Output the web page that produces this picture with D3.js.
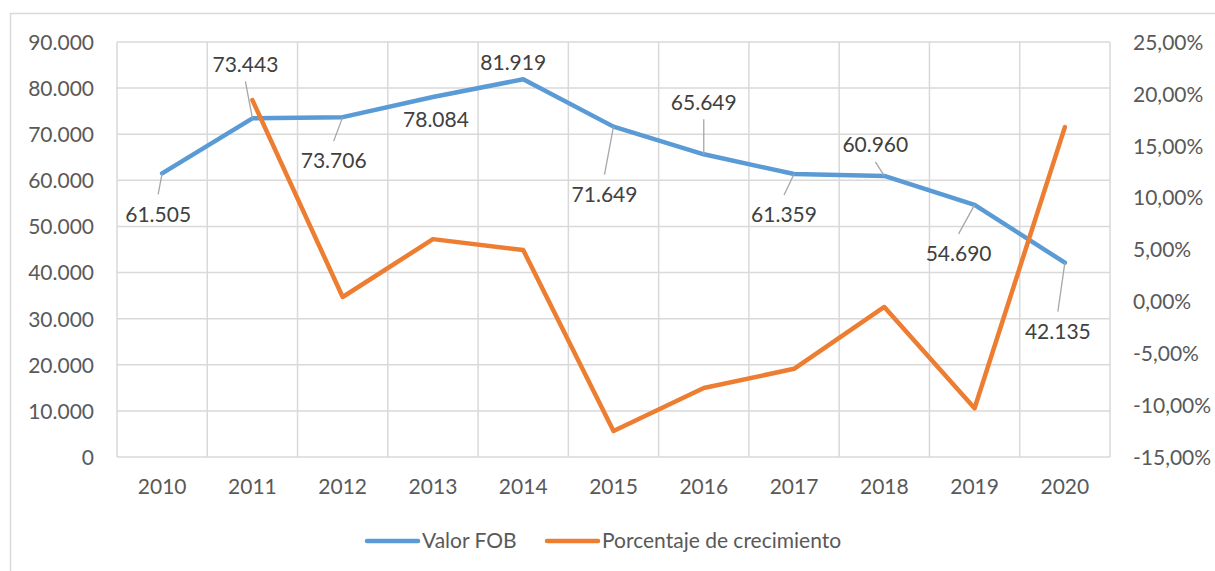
<!DOCTYPE html>
<html lang="es">
<head>
<meta charset="utf-8">
<title>Valor FOB</title>
<script src="https://cdnjs.cloudflare.com/ajax/libs/d3/7.8.5/d3.min.js"></script>
<style>
  body { margin: 0; background: #fff; }
  text { font-family: Lato, "Open Sans", sans-serif; }
</style>
</head>
<body>
<svg id="chart" width="1215" height="571"></svg>
<script>
// data
var years = ["2010","2011","2012","2013","2014","2015","2016","2017","2018","2019","2020"];
var valorFOB = [61505, 73443, 73706, 78084, 81919, 71649, 65649, 61359, 60960, 54690, 42135];
var crecimiento = [null, 0.194, 0.0042, 0.060, 0.0495, -0.125, -0.0835, -0.065, -0.0054, -0.103, 0.168];
var leftTicks = [0, 10000, 20000, 30000, 40000, 50000, 60000, 70000, 80000, 90000];
var rightTicks = [-0.15, -0.10, -0.05, 0, 0.05, 0.10, 0.15, 0.20, 0.25];

// label placement for the FOB data labels (dx, dy from point, leader line or not)
var labelPos = [[-4,41,1],[-7,-54,1],[-9,44,1],[3,23,0],[-10,-17,0],[-9,68,1],[0,-52,1],[-10,41,1],[-9,-31,1],[-16,49,1],[-7,69,1]];

var svg = d3.select("#chart");
var blue = "#5b9bd5", orange = "#ed7d31", grid = "#d9d9d9";
var fs = "21px";

// outer chart frame
svg.append("rect").attr("x", 10.5).attr("y", 13.5).attr("width", 1215).attr("height", 600)
   .attr("fill", "none").attr("stroke", grid).attr("stroke-width", 1.5);

var x = d3.scaleBand().domain(years).range([117, 1110]);
var yL = d3.scaleLinear().domain([0, 90000]).range([457, 42]);
var yR = d3.scaleLinear().domain([-0.15, 0.25]).range([457, 42]);
var cx = function(d) { return x(d) + x.bandwidth() / 2; };

var fmtN = function(v) { return v === 0 ? "0" : d3.format(",")(v).replace(/,/g, "."); };
var fmtP = function(v) { return d3.format(".2f")(v * 100).replace(".", ",").replace("−", "-") + "%"; };

// horizontal gridlines
svg.append("g").selectAll("line").data(leftTicks).enter().append("line")
   .attr("x1", 117).attr("x2", 1110)
   .attr("y1", function(d) { return yL(d); }).attr("y2", function(d) { return yL(d); })
   .attr("stroke", grid).attr("stroke-width", 1.5);

// vertical gridlines at category boundaries
var bounds = years.map(function(d) { return x(d); }).concat([1110]);
svg.append("g").selectAll("line").data(bounds).enter().append("line")
   .attr("x1", function(d) { return d; }).attr("x2", function(d) { return d; })
   .attr("y1", 42).attr("y2", 457)
   .attr("stroke", grid).attr("stroke-width", 1.5);

// left axis
var axL = svg.append("g").attr("transform", "translate(94,0)")
   .call(d3.axisLeft(yL).tickValues(leftTicks).tickFormat(fmtN).tickSize(0).tickPadding(0));
axL.select(".domain").remove();
axL.selectAll("text").attr("fill", "#595959").style("font-size", fs).attr("dy", "0.35em");

// right axis
var axR = svg.append("g").attr("transform", "translate(1133,0)")
   .call(d3.axisRight(yR).tickValues(rightTicks).tickFormat(fmtP).tickSize(0).tickPadding(0));
axR.select(".domain").remove();
axR.selectAll("text").attr("fill", "#595959").style("font-size", fs).attr("dy", "0.35em");

// bottom axis
var axB = svg.append("g").attr("transform", "translate(0,487)")
   .call(d3.axisBottom(x).tickSize(0).tickPadding(0));
axB.select(".domain").remove();
axB.selectAll("text").attr("fill", "#595959").style("font-size", fs).attr("dy", "0.35em");

// lines
var lineL = d3.line().x(function(d, i) { return cx(years[i]); }).y(function(d) { return yL(d); });
svg.append("path").datum(valorFOB).attr("d", lineL)
   .attr("fill", "none").attr("stroke", blue).attr("stroke-width", 4.5)
   .attr("stroke-linejoin", "round").attr("stroke-linecap", "round");

var lineR = d3.line().defined(function(d) { return d !== null; })
   .x(function(d, i) { return cx(years[i]); }).y(function(d) { return yR(d); });
svg.append("path").datum(crecimiento).attr("d", lineR)
   .attr("fill", "none").attr("stroke", orange).attr("stroke-width", 4.5)
   .attr("stroke-linejoin", "round").attr("stroke-linecap", "round");

// data labels with leader lines
var lbl = svg.append("g");
valorFOB.forEach(function(v, i) {
  var px = cx(years[i]), py = yL(v), p = labelPos[i];
  var lx = px + p[0], ly = py + p[1];
  if (p[2]) {
    var ey = p[1] > 0 ? ly - 20 : ly + 17;
    lbl.append("line").attr("x1", px).attr("y1", py).attr("x2", lx).attr("y2", ey)
       .attr("stroke", "#a6a6a6").attr("stroke-width", 1.3);
  }
  lbl.append("text").attr("x", lx).attr("y", ly).attr("dy", "0.35em")
     .attr("text-anchor", "middle").attr("fill", "#404040").style("font-size", fs)
     .text(fmtN(v));
});

// legend
var legend = [["Valor FOB", blue, 367], ["Porcentaje de crecimiento", orange, 547]];
legend.forEach(function(l) {
  svg.append("line").attr("x1", l[2]).attr("x2", l[2] + 51).attr("y1", 541).attr("y2", 541)
     .attr("stroke", l[1]).attr("stroke-width", 4.5).attr("stroke-linecap", "round");
  svg.append("text").attr("x", l[2] + 55).attr("y", 541).attr("dy", "0.35em")
     .attr("fill", "#595959").style("font-size", fs).text(l[0]);
});
</script>
</body>
</html>
